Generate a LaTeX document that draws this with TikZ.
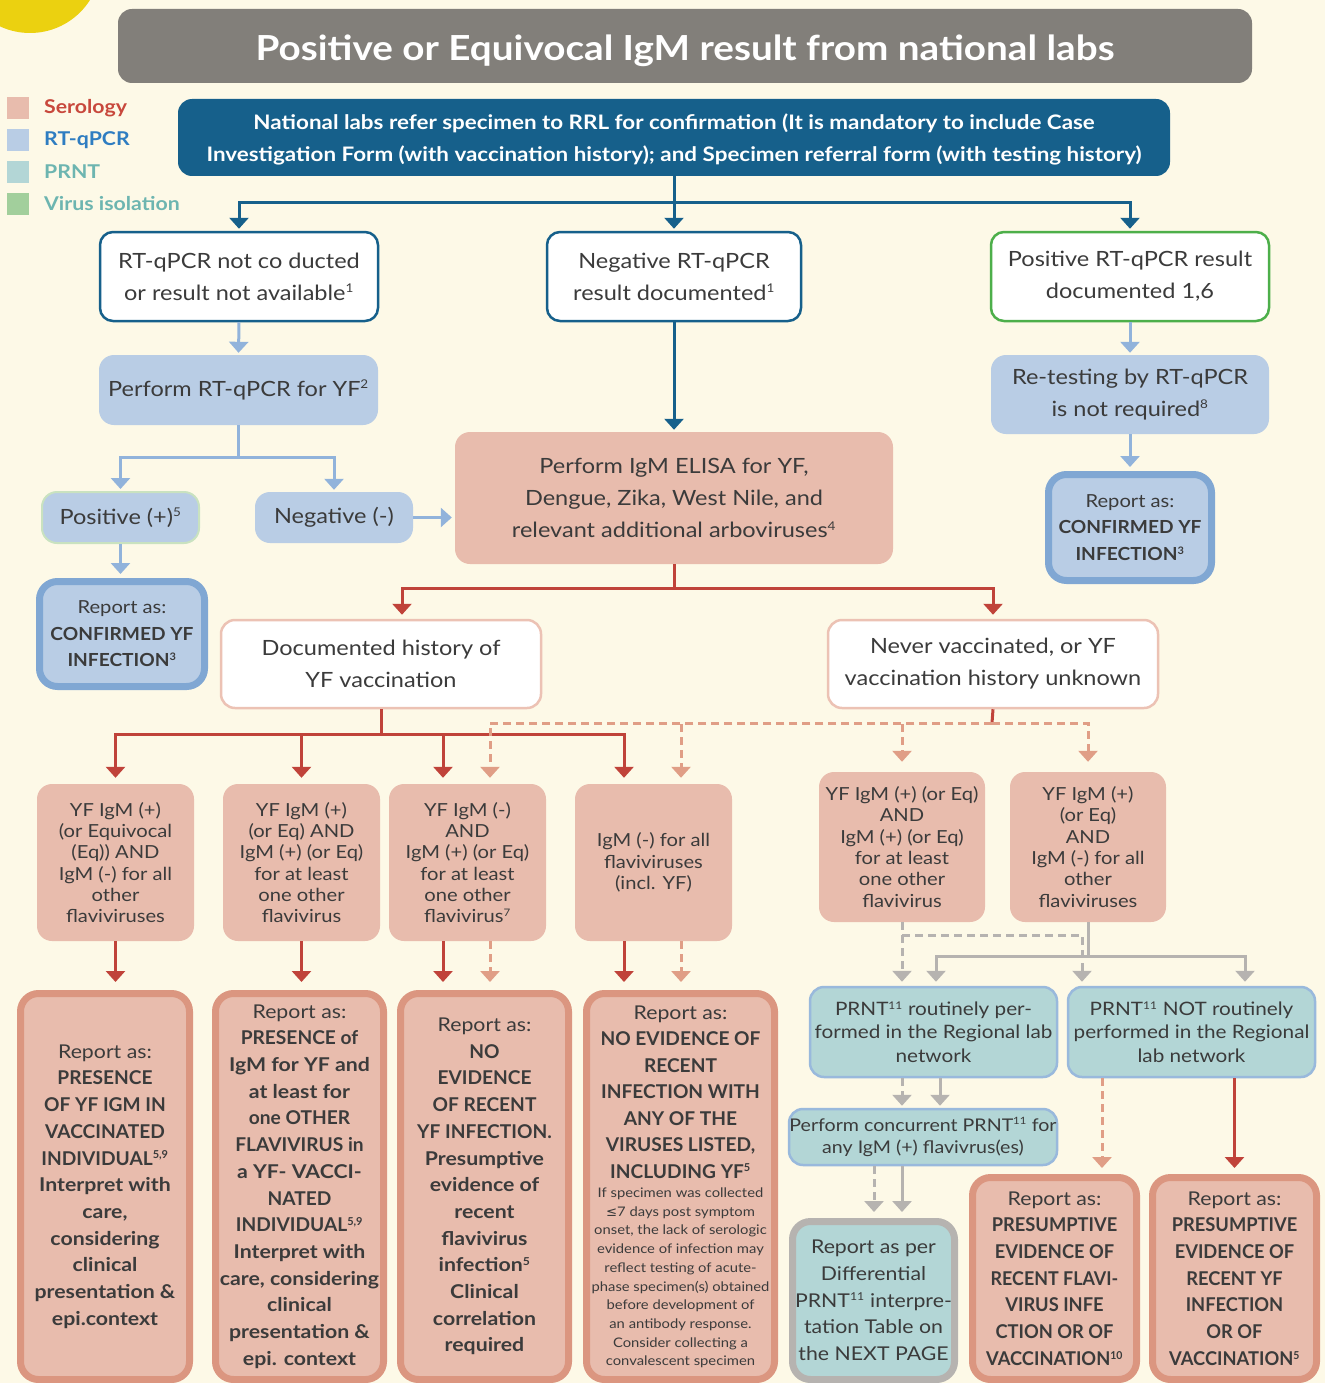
\documentclass[tikz,border=0pt]{standalone}
\usepackage{fontspec}
\usepackage{graphicx}
\setmainfont{Lato}[FakeStretch=1.12]
\newfontfamily\symfont{DejaVu Sans}
\usetikzlibrary{arrows.meta}

\definecolor{bgcream}{RGB}{253,249,231}
\definecolor{sunyellow}{RGB}{235,209,16}
\definecolor{titlegray}{RGB}{130,127,122}
\definecolor{navy}{RGB}{22,96,139}
\definecolor{txt}{RGB}{59,59,59}
\definecolor{serfill}{RGB}{232,188,173}
\definecolor{serborder}{RGB}{219,150,128}
\definecolor{redln}{RGB}{192,67,58}
\definecolor{salmon}{RGB}{224,158,134}
\definecolor{rtfill}{RGB}{185,205,229}
\definecolor{rtborder}{RGB}{128,167,211}
\definecolor{rtln}{RGB}{145,179,219}
\definecolor{prntfill}{RGB}{179,214,214}
\definecolor{grayln}{RGB}{182,179,176}
\definecolor{greenb}{RGB}{77,175,74}
\definecolor{posb}{RGB}{201,226,192}
\definecolor{vaxb}{RGB}{236,194,180}
\definecolor{virusfill}{RGB}{162,207,156}
\definecolor{legred}{RGB}{200,72,60}
\definecolor{legblue}{RGB}{46,125,193}
\definecolor{legteal}{RGB}{109,181,176}

\newcommand\fs[2]{\fontsize{#1}{#2}\selectfont}
% condensed bold for capital-letter lines
\newcommand\cp[2][0.9]{\scalebox{#1}[1]{\textbf{#2}}}
% small, tight superscript
\newcommand\sps[1]{\textsuperscript{\scalebox{0.82}{#1}}}
% lower a line visually without changing its box
\newcommand\dn[2]{\raisebox{-#1}[\height][\depth]{#2}}
% box from its border line corners (x1,y1)-(x2,y2)
\newcommand\bx[7]{\node[#2, minimum width={#5-#3}, minimum height={#6-#4}] (#1) at ({(#3+#5)/2},{(#4+#6)/2}) {#7};}

\begin{document}
\begin{tikzpicture}[x=1pt,y=-1pt,
  every node/.style={text=txt, inner sep=0pt, align=center},
  >={Triangle[width=19pt,length=11pt]},
  wbox/.style={fill=white, draw=navy, line width=2.5pt, rounded corners=13pt, font=\fs{21}{32}},
  rtbox/.style={fill=rtfill, rounded corners=15pt, font=\fs{21}{32}},
  rtrep/.style={fill=rtfill, draw=rtborder, line width=7pt, rounded corners=18pt, font=\fs{18}{26.5}},
  serbox/.style={fill=serfill, rounded corners=15pt},
  vbox/.style={fill=white, draw=vaxb, line width=2.5pt, rounded corners=14pt, font=\fs{21}{32}},
  cbox/.style={fill=serfill, rounded corners=15pt, font=\fs{18}{21.3}},
  serrep/.style={fill=serfill, draw=serborder, line width=7pt, rounded corners=18pt, font=\fs{19}{26.7}},
  prntbox/.style={fill=prntfill, draw=rtborder!80, line width=2.5pt, rounded corners=14pt, font=\fs{18.5}{23.5}},
  navyln/.style={draw=navy, line width=3pt},
  rtl/.style={draw=rtln, line width=3pt},
  redl/.style={draw=redln, line width=3pt},
  saldash/.style={draw=salmon, line width=3pt, dash pattern=on 8pt off 5pt},
  grayl/.style={draw=grayln, line width=3pt},
  graydash/.style={draw=grayln, line width=3pt, dash pattern=on 8pt off 5pt},
  legsq/.style={minimum size=22pt}
]
\useasboundingbox (0,0) rectangle (1325,1383);
\fill[bgcream] (0,0) rectangle (1325,1383);
\fill[sunyellow] (30,-38) circle[radius=71pt];

% header
\bx{title}{fill=titlegray, rounded corners=14pt, text=white, font=\bfseries\fs{34.5}{40}}{118}{9}{1252}{83}{\dn{5pt}{Positive or Equivocal IgM result from national labs}}

% legend
\node[legsq, fill=serfill] (sq1) at (18,108) {};
\node[legsq, fill=rtfill] (sq2) at (18,140) {};
\node[legsq, fill=prntfill] (sq3) at (18,172) {};
\node[legsq, fill=virusfill] (sq4) at (18,204) {};
\node[anchor=west, font=\bfseries\fs{19}{22}, text=legred] (lg1) at (44,108) {Serology};
\node[anchor=west, font=\bfseries\fs{19}{22}, text=legblue] (lg2) at (44,140) {RT-qPCR};
\node[anchor=west, font=\bfseries\fs{19}{22}, text=legteal] (lg3) at (44,172) {PRNT};
\node[anchor=west, font=\bfseries\fs{19}{22}, text=legteal] (lg4) at (44,204) {Virus isolation};

% referral step
\bx{nat}{fill=navy, rounded corners=14pt, text=white, font=\bfseries\fs{20}{32}}{178}{99}{1170}{176}{\dn{2pt}{National labs refer specimen to RRL for confirmation (It is mandatory to include Case}\\\dn{2pt}{Investigation Form (with vaccination history); and Specimen referral form (with testing history)}}

% RT-qPCR status
\bx{nc}{wbox}{100}{232}{378}{321}{RT-qPCR not co ducted\\or result not available\sps{1}}
\bx{neg0}{wbox}{547}{232}{801}{321}{Negative RT-qPCR\\result documented\sps{1}}
\bx{posr}{wbox, draw=greenb}{991}{232}{1269}{321}{Positive RT-qPCR result\\documented 1,6}

\bx{perf}{rtbox}{99}{355}{378}{425}{Perform RT-qPCR for YF\sps{2}}
\bx{pos}{rtbox, draw=posb, line width=2pt}{42}{492}{199}{543}{Positive (+)\sps{5}}
\bx{neg}{rtbox}{255}{492}{413}{543}{Negative (-)}
\bx{conf1}{rtrep}{39.5}{581.5}{204.5}{686.5}{Report as:\\\cp[0.95]{CONFIRMED YF}\\\cp[0.95]{INFECTION\sps{3}}}
\bx{retest}{rtbox}{991}{355}{1269}{434}{Re-testing by RT-qPCR\\is not required\sps{8}}
\bx{conf2}{rtrep}{1048.5}{474.5}{1211.5}{580.5}{Report as:\\\cp[0.95]{CONFIRMED YF}\\\cp[0.95]{INFECTION\sps{3}}}

% serology
\bx{elisa}{serbox, font=\fs{21}{32}}{455}{432}{893}{564}{Perform IgM ELISA for YF,\\Dengue, Zika, West Nile, and\\relevant additional arboviruses\sps{4}}
\bx{doc}{vbox}{221}{620}{541}{708}{Documented history of\\YF vaccination}
\bx{nev}{vbox}{828}{620}{1158}{708}{Never vaccinated, or YF\\vaccination history unknown}

\bx{c1}{cbox}{37}{784}{194}{941}{YF IgM (+)\\(or Equivocal\\(Eq)) AND\\IgM (-) for all\\other\\flaviviruses}
\bx{c2}{cbox}{223}{784}{380}{941}{YF IgM (+)\\(or Eq) AND\\IgM (+) (or Eq)\\for at least\\one other\\flavivirus}
\bx{c3}{cbox}{389}{784}{546}{941}{YF IgM (-)\\AND\\IgM (+) (or Eq)\\for at least\\one other\\flavivirus\sps{7}}
\bx{c4}{cbox}{575}{784}{732}{941}{IgM (-) for all\\flaviviruses\\(incl. YF)}
\bx{c5}{cbox}{819}{772}{985}{922}{YF IgM (+) (or Eq)\\AND\\IgM (+) (or Eq)\\for at least\\one other\\flavivirus}
\bx{c6}{cbox}{1010}{772}{1166}{922}{YF IgM (+)\\(or Eq)\\AND\\IgM (-) for all\\other\\flaviviruses}

% outcomes
\bx{r1}{serrep}{20.5}{993.5}{189.5}{1379.5}{Report as:\\\cp{PRESENCE}\\\cp{OF YF IGM IN}\\\cp{VACCINATED}\\\cp{INDIVIDUAL\sps{5,9}}\\\textbf{Interpret with}\\\textbf{care,}\\\textbf{considering}\\\textbf{clinical}\\\textbf{presentation \&}\\\textbf{epi.context}}
\bx{r2}{serrep}{215.5}{993.5}{383.5}{1379.5}{Report as:\\\cp{PRESENCE of}\\\textbf{IgM for YF and}\\\textbf{at least for}\\\cp{one OTHER}\\\cp{FLAVIVIRUS in}\\\textbf{a YF- VACCI-}\\\cp{NATED}\\\cp{INDIVIDUAL\sps{5,9}}\\\textbf{Interpret with}\\\textbf{care, considering}\\\textbf{clinical}\\\textbf{presentation \&}\\\textbf{epi. context}}
\bx{r3}{serrep}{400.5}{993.5}{568.5}{1379.5}{Report as:\\\cp{NO}\\\cp{EVIDENCE}\\\cp{OF RECENT}\\\cp{YF INFECTION.}\\\textbf{Presumptive}\\\textbf{evidence of}\\\textbf{recent}\\\textbf{flavivirus}\\\textbf{infection\sps{5}}\\\textbf{Clinical}\\\textbf{correlation}\\\textbf{required}}
\bx{r4}{serrep}{586.5}{993.5}{774.5}{1379.5}{}
\node[font=\fs{19}{26.5}] (r4t) at (680.5,1092) {Report as:\\\cp{NO EVIDENCE OF}\\\cp{RECENT}\\\cp{INFECTION WITH}\\\cp{ANY OF THE}\\\cp{VIRUSES LISTED,}\\\cp{INCLUDING YF\sps{5}}};
\node[font=\fs{13.2}{18.7}] (r4n) at (680.5,1278) {If specimen was collected\\{\symfont ≤}7 days post symptom\\onset, the lack of serologic\\evidence of infection may\\reflect testing of acute-\\phase specimen(s) obtained\\before development of\\an antibody response.\\Consider collecting a\\convalescent specimen};

% PRNT
\bx{p1}{prntbox}{810}{987}{1057}{1077}{PRNT\sps{11} routinely per-\\formed in the Regional lab\\network}
\bx{p2}{prntbox}{1068}{987}{1315}{1077}{PRNT\sps{11} NOT routinely\\performed in the Regional\\lab network}
\bx{pc}{prntbox, font=\fs{17.5}{22}}{789}{1109}{1057}{1165}{Perform concurrent PRNT\sps{11} for\\any IgM (+) flavivrus(es)}
\bx{diff}{serrep, fill=prntfill, draw=grayln, font=\fs{19}{26.7}}{792.5}{1221.5}{954.5}{1379.5}{Report as per\\Differential\\PRNT\sps{11} interpre-\\tation Table on\\the NEXT PAGE}
\bx{r5}{serrep}{972.5}{1177.5}{1136.5}{1379.5}{Report as:\\\cp[0.86]{PRESUMPTIVE}\\\cp[0.86]{EVIDENCE OF}\\\cp[0.84]{RECENT FLAVI-}\\\cp[0.86]{VIRUS INFE}\\\cp[0.86]{CTION OR OF}\\\cp[0.86]{VACCINATION\sps{10}}}
\bx{r6}{serrep}{1152.5}{1177.5}{1316.5}{1379.5}{Report as:\\\cp[0.86]{PRESUMPTIVE}\\\cp[0.86]{EVIDENCE OF}\\\cp[0.86]{RECENT YF}\\\cp[0.86]{INFECTION}\\\cp[0.86]{OR OF}\\\cp[0.86]{VACCINATION\sps{5}}}

% ---- connectors ----
% referral fan-out
\coordinate (j1) at (674,202);
\draw[navyln] (nat.south) -- (j1);
\draw[navyln,->,shorten >=2pt] (j1) -| (nc.north);
\draw[navyln,->,shorten >=2pt] (j1) -- (neg0.north);
\draw[navyln,->,shorten >=2pt] (j1) -| (posr.north);
\draw[navyln,->,shorten >=2pt] (neg0.south) -- (elisa.north);

% RT-qPCR branch
\draw[rtl,->,shorten >=2pt] (nc.south) -- (perf.north);
\coordinate (j2) at (238.5,457);
\draw[rtl] (perf.south) -- (j2);
\draw[rtl,->,shorten >=2pt] (j2) -| (pos.north);
\draw[rtl,->,shorten >=2pt] (j2) -| (neg.north);
\draw[rtl,->,shorten >=3pt] (neg.east) -- (neg.east -| elisa.west);
\draw[rtl,->,shorten >=4pt] (pos.south) -- (pos.south |- conf1.north);
\draw[rtl,->,shorten >=2pt] (posr.south) -- (retest.north);
\draw[rtl,->,shorten >=4pt] (retest.south) -- (conf2.north);

% vaccination history split
\coordinate (j3) at (674,588);
\draw[redl] (elisa.south) -- (j3);
\draw[redl,->,shorten >=4pt] (j3) -| ([xshift=21pt]doc.north);
\draw[redl,->,shorten >=4pt] (j3) -| (nev.north);

\coordinate (j4) at (381,734);
\coordinate (c3a) at ([xshift=-24.5pt]c3.north);
\coordinate (c4a) at ([xshift=-29.5pt]c4.north);
\coordinate (c3b) at ([xshift=22.5pt]c3.north);
\coordinate (c4b) at ([xshift=27.5pt]c4.north);
\draw[redl] (doc.south) -- (j4);
\draw[redl,->,shorten >=6pt] (j4) -| (c1.north);
\draw[redl,->,shorten >=6pt] (j4) -| (c2.north);
\draw[redl,->,shorten >=6pt] (j4) -| (c3a);
\draw[redl,->,shorten >=6pt] (j4) -| (c4a);

\coordinate (j5) at (992,723);
\draw[redl] (nev.south) -- (j5);
\draw[saldash,->,shorten >=6pt] (j5) -| (c3b);
\draw[saldash,->,shorten >=6pt] (j5) -| (c4b);
\draw[saldash,->,shorten >=10pt] (j5) -| (c5.north);
\draw[saldash,->,shorten >=10pt] (j5) -| (c6.north);

% to outcomes
\coordinate (c3s) at ([xshift=-24.5pt]c3.south);
\coordinate (c4s) at ([xshift=-29.5pt]c4.south);
\coordinate (c3d) at ([xshift=22.5pt]c3.south);
\coordinate (c4d) at ([xshift=27.5pt]c4.south);
\draw[redl,->,shorten >=8pt] (c1.south) -- (c1.south |- r1.north);
\draw[redl,->,shorten >=8pt] (c2.south) -- (c2.south |- r2.north);
\draw[redl,->,shorten >=8pt] (c3s) -- (c3s |- r3.north);
\draw[redl,->,shorten >=8pt] (c4s) -- (c4s |- r4.north);
\draw[saldash,->,shorten >=8pt] (c3d) -- (c3d |- r3.north);
\draw[saldash,->,shorten >=8pt] (c4d) -- (c4d |- r4.north);

% PRNT routing
\coordinate (j6) at (902,935);
\draw[graydash] (c5.south) -- (j6);
\draw[graydash,->,shorten >=4pt] (j6) -- (j6 |- p1.north);
\draw[graydash,->,shorten >=4pt] (j6) -| ([xshift=-109.5pt]p2.north);
\coordinate (j7) at (1088,956);
\draw[grayl] (c6.south) -- (j7);
\draw[grayl,->,shorten >=4pt] (j7) -| ([xshift=2.5pt]p1.north);
\draw[grayl,->,shorten >=4pt] (j7) -| ([xshift=53.5pt]p2.north);

\coordinate (p1d) at ([xshift=-31.5pt]p1.south);
\coordinate (p1s) at ([xshift=6.5pt]p1.south);
\draw[graydash,->,shorten >=2pt] (p1d) -- (p1d |- pc.north);
\draw[grayl,->,shorten >=2pt] (p1s) -- (p1s |- pc.north);
\coordinate (pcd) at ([xshift=-49pt]pc.south);
\coordinate (pcs) at ([xshift=-21pt]pc.south);
\draw[graydash,->,shorten >=6pt] (pcd) -- (pcd |- diff.north);
\draw[grayl,->,shorten >=6pt] (pcs) -- (pcs |- diff.north);

\coordinate (p2d) at ([xshift=-89.5pt]p2.south);
\draw[saldash,->,shorten >=6pt] (p2d) -- (p2d |- r5.north);
\draw[redl,->,shorten >=6pt] (p2.south -| r6.north) -- (r6.north);
\end{tikzpicture}
\end{document}
